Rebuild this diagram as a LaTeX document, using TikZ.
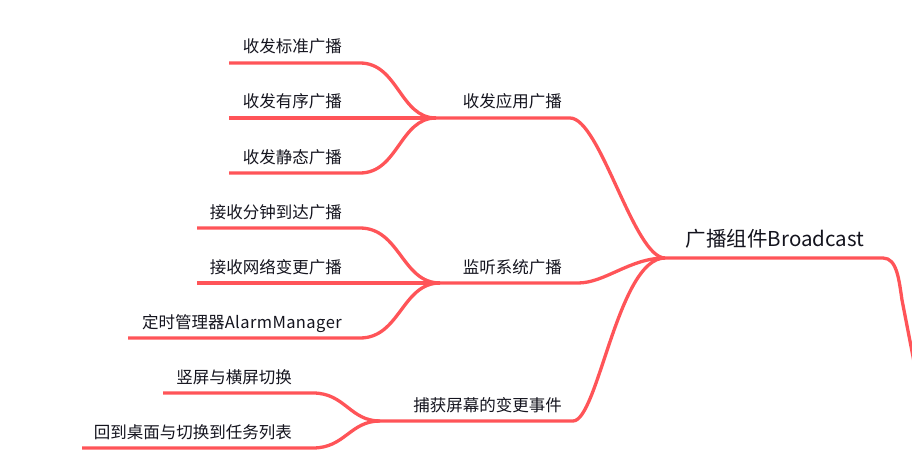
\documentclass[tikz,border=0pt]{standalone}
\usepackage{fontspec}
\newfontfamily\cjk{Noto Sans CJK SC}
\definecolor{mmred}{RGB}{255,84,88}
\definecolor{mmtext}{RGB}{20,20,30}
\begin{document}
\begin{tikzpicture}[x=1pt,y=-1pt,
  br/.style={draw=mmred, line width=3.3pt, line cap=butt, line join=round},
  lbl/.style={font=\cjk\fontsize{16.5}{18}\selectfont, inner sep=0pt, text=mmtext},
  rootlbl/.style={font=\cjk\fontsize{20.5}{22}\selectfont, inner sep=0pt, text=mmtext}]
\useasboundingbox (0,0) rectangle (912,476);
\clip (0,0) rectangle (912,476);

% root
\coordinate (rj) at (665,258);
\coordinate (re) at (883,258);
\coordinate (rc) at (902,300);
\coordinate (rout) at (916,372);
\node[rootlbl, anchor=base] (root) at (775,246.5) {广播组件Broadcast};
\draw[br] (rj) -- (re) .. controls (897,258) and (899,280) .. (rc) -- (rout);

% branch 1
\coordinate (b1j) at (436,118);
\coordinate (b1e) at (570,118);
\node[lbl, anchor=base east] (b1) at (562,108) {收发应用广播};
\draw[br] (b1j) -- (b1e) .. controls (600,118) and (634,258) .. (rj);

\coordinate (c11s) at (229,63);  \coordinate (c11e) at (360,63);
\coordinate (c12s) at (229,118);
\coordinate (c13s) at (229,173); \coordinate (c13e) at (360,173);
\node[lbl, anchor=base east] (c11) at (342,53) {收发标准广播};
\node[lbl, anchor=base east] (c12) at (342,108) {收发有序广播};
\node[lbl, anchor=base east] (c13) at (342,163) {收发静态广播};
\draw[br] (c11s) -- (c11e) .. controls (398,63) and (400,118) .. (b1j);
\draw[br] (c12s) -- (b1j);
\draw[br] (c13s) -- (c13e) .. controls (398,173) and (400,118) .. (b1j);

% branch 2
\coordinate (b2j) at (440,283);
\coordinate (b2e) at (578,283);
\node[lbl, anchor=base east] (b2) at (562,273) {监听系统广播};
\draw[br] (b2j) -- (b2e) .. controls (605,283) and (630,258) .. (rj);

\coordinate (c21s) at (197,228); \coordinate (c21e) at (360,228);
\coordinate (c22s) at (197,283);
\coordinate (c23s) at (128,338); \coordinate (c23e) at (360,338);
\node[lbl, anchor=base east] (c21) at (342,218) {接收分钟到达广播};
\node[lbl, anchor=base east] (c22) at (342,273) {接收网络变更广播};
\node[lbl, anchor=base east] (c23) at (342,328) {定时管理器\hspace{0.3pt}A\hspace{0.4pt}l\hspace{0.4pt}a\hspace{0.4pt}r\hspace{0.4pt}m\hspace{0.4pt}M\hspace{0.4pt}a\hspace{0.4pt}n\hspace{0.4pt}a\hspace{0.4pt}g\hspace{0.4pt}e\hspace{0.4pt}r};
\draw[br] (c21s) -- (c21e) .. controls (400,228) and (402,283) .. (b2j);
\draw[br] (c22s) -- (b2j);
\draw[br] (c23s) -- (c23e) .. controls (400,338) and (402,283) .. (b2j);

% branch 3
\coordinate (b3j) at (380,421);
\coordinate (b3e) at (573,421);
\node[lbl, anchor=base east] (b3) at (562,411) {捕获屏幕的变更事件};
\draw[br] (b3j) -- (b3e) .. controls (598,421) and (618,258) .. (rj);

\coordinate (c31s) at (163,393); \coordinate (c31e) at (313,393);
\coordinate (c32s) at (82,448);  \coordinate (c32e) at (313,448);
\node[lbl, anchor=base east] (c31) at (292,383) {竖屏与横屏切换};
\node[lbl, anchor=base east] (c32) at (292,438) {回到桌面与切换到任务列表};
\draw[br] (c31s) -- (c31e) .. controls (345,393) and (350,421) .. (b3j);
\draw[br] (c32s) -- (c32e) .. controls (345,448) and (350,421) .. (b3j);
\end{tikzpicture}
\end{document}
